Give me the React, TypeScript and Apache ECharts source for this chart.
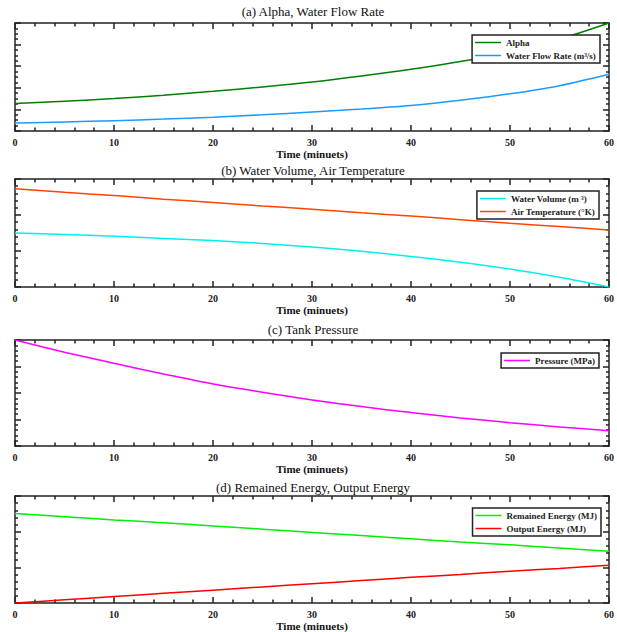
import React, { useEffect, useRef } from "react";
import * as echarts from "echarts";

const minutes = [0, 5, 10, 15, 20, 25, 30, 35, 40, 45, 50, 55, 60];
const alpha = [1.27, 1.38, 1.5, 1.66, 1.84, 2.04, 2.27, 2.55, 2.86, 3.22, 3.65, 4.25, 5.0];
const waterFlow = [0.37, 0.42, 0.48, 0.55, 0.64, 0.75, 0.88, 1.02, 1.18, 1.42, 1.72, 2.1, 2.63];
const waterVolume = [1.5, 1.46, 1.41, 1.35, 1.29, 1.21, 1.11, 0.99, 0.85, 0.69, 0.5, 0.27, 0.0];
const airTemp = [2.73, 2.63, 2.54, 2.44, 2.35, 2.25, 2.16, 2.06, 1.97, 1.87, 1.77, 1.68, 1.58];
const pressure = [4.0, 3.54, 3.12, 2.72, 2.34, 2.03, 1.74, 1.49, 1.26, 1.06, 0.88, 0.72, 0.58];
const remained = [2.51, 2.42, 2.33, 2.25, 2.16, 2.07, 1.98, 1.89, 1.8, 1.71, 1.63, 1.54, 1.45];
const outputEnergy = [0, 0.09, 0.18, 0.27, 0.36, 0.45, 0.54, 0.63, 0.72, 0.8, 0.89, 0.97, 1.06];

const titles = [
  "(a) Alpha, Water Flow Rate",
  "(b) Water Volume, Air Temperature",
  "(c) Tank Pressure",
  "(d) Remained Energy, Output Energy",
];
const xName = "Time (minuets)";

const FONT = "Liberation Serif";

export default function App() {
  const ref = useRef<HTMLDivElement>(null);
  useEffect(() => {
    if (!ref.current) return;
    const chart = echarts.init(ref.current, undefined, { renderer: "svg" });

    const grids = [
      { top: 23, height: 108 },
      { top: 179, height: 108 },
      { top: 340, height: 106 },
      { top: 496, height: 107 },
    ];
    const yMax = [5, 3, 4, 3];
    const yMinor = [4, 5, 5, 5];
    const titleY = [5, 164, 323, 481];

    const axisLineStyle = { color: "#222", width: 1.5 };
    const tickStyle = { color: "#222", width: 1.5 };

    const xAxes: any[] = [];
    const yAxes: any[] = [];
    grids.forEach((g, i) => {
      ["bottom", "top"].forEach((pos) => {
        const isBottom = pos === "bottom";
        xAxes.push({
          type: "value",
          gridIndex: i,
          min: 0,
          max: 60,
          interval: 10,
          position: pos,
          name: isBottom ? xName : "",
          nameLocation: "middle",
          nameGap: 17,
          nameTextStyle: { fontFamily: FONT, fontWeight: "bold", fontSize: 11, color: "#111" },
          axisLine: { show: true, onZero: false, lineStyle: axisLineStyle },
          axisTick: { show: true, inside: true, length: 6, lineStyle: tickStyle },
          minorTick: { show: true, splitNumber: 5, length: 3.5, lineStyle: tickStyle },
          axisLabel: { show: isBottom, margin: 6, fontFamily: FONT, fontWeight: "bold", fontSize: 10, color: "#222" },
          splitLine: { show: false },
        });
      });
      ["left", "right"].forEach((pos) => {
        yAxes.push({
          type: "value",
          gridIndex: i,
          min: 0,
          max: yMax[i],
          interval: 1,
          position: pos,
          axisLine: { show: true, onZero: false, lineStyle: axisLineStyle },
          axisTick: { show: true, inside: true, length: 6, lineStyle: tickStyle },
          minorTick: { show: true, splitNumber: yMinor[i], length: 3, lineStyle: tickStyle },
          axisLabel: { show: false },
          splitLine: { show: false },
        });
      });
    });

    const pts = (ys: number[]) => minutes.map((m, k) => [m, ys[k]]);
    const mk = (name: string, data: number[], color: string, panel: number) => ({
      type: "line",
      name,
      xAxisIndex: panel * 2,
      yAxisIndex: panel * 2,
      data: pts(data),
      symbol: "none",
      smooth: 0.3,
      lineStyle: { color, width: 1.5 },
      itemStyle: { color },
    });

    const series = [
      mk("Alpha", alpha, "#008000", 0),
      mk("Water Flow Rate (m³/s)", waterFlow, "#1a9bff", 0),
      mk("Water Volume (m ³)", waterVolume, "#00f0f0", 1),
      mk("Air Temperature (°K)", airTemp, "#ff4500", 1),
      mk("Pressure (MPa)", pressure, "#ff00ff", 2),
      mk("Remained Energy (MJ)", remained, "#00ee00", 3),
      mk("Output Energy (MJ)", outputEnergy, "#ff0000", 3),
    ];

    const legendBase = {
      orient: "vertical",
      icon: "rect",
      itemWidth: 26,
      itemHeight: 1.5,
      itemGap: 4,
      padding: [3, 4, 3, 3],
      backgroundColor: "#fff",
      borderColor: "#222",
      borderWidth: 1.5,
      textStyle: { fontFamily: FONT, fontWeight: "bold", fontSize: 9, color: "#222" },
    };

    const legends = [
      { ...legendBase, right: 17, top: 35, data: ["Alpha", "Water Flow Rate (m³/s)"] },
      { ...legendBase, right: 18, top: 191, data: ["Water Volume (m ³)", "Air Temperature (°K)"] },
      { ...legendBase, right: 18, top: 353, data: ["Pressure (MPa)"] },
      { ...legendBase, right: 16, top: 508, data: ["Remained Energy (MJ)", "Output Energy (MJ)"] },
    ];

    chart.setOption({
      animation: false,
      backgroundColor: "#fff",
      title: titles.map((t, i) => ({
        text: t,
        left: 313,
        top: titleY[i],
        textAlign: "center",
        padding: 0,
        textStyle: { fontFamily: FONT, fontWeight: "normal", fontSize: 13, color: "#111" },
      })),
      grid: grids.map((g) => ({ left: 15, right: 5, top: g.top, height: g.height })),
      xAxis: xAxes,
      yAxis: yAxes,
      legend: legends,
      series,
    });

    return () => chart.dispose();
  }, []);

  return (
    <div
      ref={ref}
      style={{ position: "fixed", left: 0, top: 0, width: 617, height: 632, background: "#fff" }}
    />
  );
}
